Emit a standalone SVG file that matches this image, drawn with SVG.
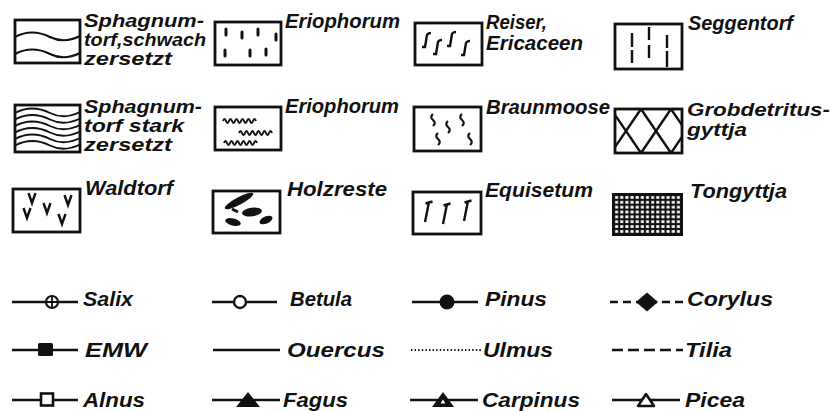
<svg xmlns="http://www.w3.org/2000/svg" width="831" height="411" viewBox="0 0 831 411">
<style>
.t{font-family:"Liberation Sans",Arial,sans-serif;font-weight:bold;font-style:italic;font-size:20px;fill:#111}
.m{font-size:18px}
.box{fill:#fff;stroke:#111;stroke-width:2.8}
.ln{fill:none;stroke:#111;stroke-width:2.4}
.lnt{fill:none;stroke:#111;stroke-width:2.4;stroke-linecap:round}
.blk{fill:#111}
</style>
<defs>
<path id="wave" d="M0,0 C13,-7 25,-5 35,0 C45,5 55,4 65,-1"/>
<path id="curl" d="M0,0 q1.5,-4 3,0 t3,0 t3,0 t3,0 t3,0 t3,0 t3,0 t3,0 t3,0 t3,0 t3,0"/>
<path id="sq" d="M0,0 q-3.5,3 0,6 t0,6"/>
<path id="vv" d="M-3.5,0 L0,10 L3.5,0"/>
<path id="eq" d="M0,0 L-4,20 M-3.5,1.5 L3.5,-0.5"/>
<path id="rs" d="M0,14 L3,14 L5,2 Q6,0 9,0"/>
<pattern id="grid" patternUnits="userSpaceOnUse" x="614" y="195" width="5.15" height="4.85">
<rect x="1.1" y="1.1" width="3" height="2.7" fill="#fff"/>
</pattern>
</defs>
<rect width="831" height="411" fill="#fff"/>

<g id="sphagnum-schwach">
<rect class="box" x="15" y="20" width="65" height="43"/>
<use href="#wave" x="15" y="37" class="ln" style="stroke-width:2"/>
<use href="#wave" x="15" y="54" class="ln" style="stroke-width:2"/>
<text class="t m" x="84" y="27" textLength="120" lengthAdjust="spacingAndGlyphs">Sphagnum-</text>
<text class="t m" x="84" y="46" textLength="122" lengthAdjust="spacingAndGlyphs">torf,schwach</text>
<text class="t m" x="84" y="65" textLength="88" lengthAdjust="spacingAndGlyphs">zersetzt</text>
</g>

<g id="eriophorum-1">
<rect class="box" x="215" y="22" width="66" height="43"/>
<g class="lnt" style="stroke-width:3">
<line x1="226" y1="29" x2="226" y2="35"/>
<line x1="242" y1="32" x2="242" y2="38"/>
<line x1="258" y1="29" x2="258" y2="35"/>
<line x1="276" y1="34" x2="276" y2="40"/>
<line x1="225" y1="50" x2="225" y2="56"/>
<line x1="250" y1="50" x2="250" y2="56"/>
<line x1="266" y1="49" x2="266" y2="55"/>
</g>
<text class="t" x="285" y="28" textLength="115" lengthAdjust="spacingAndGlyphs">Eriophorum</text>
</g>

<g id="reiser">
<rect class="box" x="415" y="23" width="67" height="42"/>
<g class="ln">
<use href="#rs" x="422" y="33"/>
<use href="#rs" x="433" y="40"/>
<use href="#rs" x="447" y="32"/>
<use href="#rs" x="461" y="41"/>
</g>
<text class="t" x="486" y="29" textLength="61" lengthAdjust="spacingAndGlyphs">Reiser,</text>
<text class="t" x="486" y="50" textLength="97" lengthAdjust="spacingAndGlyphs">Ericaceen</text>
</g>

<g id="seggentorf">
<rect class="box" x="615" y="24" width="67" height="45"/>
<g class="ln">
<line x1="632" y1="33" x2="632" y2="47"/>
<line x1="632" y1="50" x2="632" y2="63"/>
<line x1="649" y1="27" x2="649" y2="40"/>
<line x1="649" y1="45" x2="649" y2="58"/>
<line x1="667" y1="35" x2="667" y2="48"/>
<line x1="667" y1="51" x2="667" y2="67"/>
</g>
<text class="t" x="688" y="30" textLength="105" lengthAdjust="spacingAndGlyphs">Seggentorf</text>
</g>

<g id="sphagnum-stark">
<rect class="box" x="15" y="105" width="65" height="47"/>
<g class="ln" style="stroke-width:1.9">
<use href="#wave" x="15" y="113"/>
<use href="#wave" x="15" y="119.5"/>
<use href="#wave" x="15" y="126"/>
<use href="#wave" x="15" y="132.5"/>
<use href="#wave" x="15" y="139"/>
<use href="#wave" x="15" y="145.5"/>
</g>
<text class="t m" x="84" y="113" textLength="118" lengthAdjust="spacingAndGlyphs">Sphagnum-</text>
<text class="t m" x="84" y="132" textLength="100" lengthAdjust="spacingAndGlyphs">torf stark</text>
<text class="t m" x="84" y="151" textLength="88" lengthAdjust="spacingAndGlyphs">zersetzt</text>
</g>

<g id="eriophorum-2">
<rect class="box" x="215" y="107" width="66" height="43"/>
<g class="ln" style="stroke-width:2">
<use href="#curl" x="223" y="121"/>
<use href="#curl" x="239" y="133"/>
<use href="#curl" x="224" y="143"/>
</g>
<text class="t" x="285" y="113" textLength="114" lengthAdjust="spacingAndGlyphs">Eriophorum</text>
</g>

<g id="braunmoose">
<rect class="box" x="414" y="107" width="67" height="44"/>
<g class="ln" style="stroke-width:2.2">
<use href="#sq" x="433" y="114"/>
<use href="#sq" x="438" y="133"/>
<use href="#sq" x="448" y="121"/>
<use href="#sq" x="462" y="114"/>
<use href="#sq" x="470" y="133"/>
</g>
<text class="t" x="486" y="114" textLength="124" lengthAdjust="spacingAndGlyphs">Braunmoose</text>
</g>

<g id="grobdetritus">
<rect class="box" x="615" y="109" width="67" height="44"/>
<g class="ln">
<line x1="615" y1="114.9" x2="641" y2="153"/>
<line x1="641" y1="109" x2="671" y2="153"/>
<line x1="671" y1="109" x2="682" y2="125.1"/>
<line x1="641" y1="109" x2="615" y2="147.1"/>
<line x1="671" y1="109" x2="641" y2="153"/>
<line x1="682" y1="136.9" x2="671" y2="153"/>
</g>
<text class="t m" x="687" y="116" textLength="143" lengthAdjust="spacingAndGlyphs">Grobdetritus-</text>
<text class="t m" x="687" y="136" textLength="60" lengthAdjust="spacingAndGlyphs">gyttja</text>
</g>

<g id="waldtorf">
<rect class="box" x="13" y="189" width="67" height="43"/>
<g class="ln">
<use href="#vv" x="32" y="193"/>
<use href="#vv" x="27" y="208"/>
<use href="#vv" x="47" y="203"/>
<use href="#vv" x="68" y="195"/>
<use href="#vv" x="62" y="214"/>
</g>
<text class="t" x="85" y="195" textLength="88" lengthAdjust="spacingAndGlyphs">Waldtorf</text>
</g>

<g id="holzreste">
<rect class="box" x="213" y="191" width="67" height="42"/>
<g class="blk">
<ellipse cx="239" cy="201" rx="16" ry="3.8" transform="rotate(-28 239 201)"/>
<path d="M232,209 L238,212 Z" stroke="#111" stroke-width="3"/>
<ellipse cx="252" cy="212" rx="10" ry="4.4" transform="rotate(-8 252 212)"/>
<ellipse cx="266" cy="220" rx="7" ry="3.5" transform="rotate(-25 266 220)"/>
<ellipse cx="233" cy="222" rx="8" ry="3.5" transform="rotate(15 233 222)"/>
</g>
<text class="t" x="287" y="196" textLength="100" lengthAdjust="spacingAndGlyphs">Holzreste</text>
</g>

<g id="equisetum">
<rect class="box" x="413" y="192" width="68" height="42"/>
<g class="ln">
<use href="#eq" x="429" y="202"/>
<use href="#eq" x="447" y="204"/>
<use href="#eq" x="468" y="201"/>
</g>
<text class="t" x="485" y="197" textLength="108" lengthAdjust="spacingAndGlyphs">Equisetum</text>
</g>

<g id="tongyttja">
<rect x="612" y="193" width="71" height="43" fill="#111"/>
<rect x="614" y="195" width="67" height="39" fill="url(#grid)"/>
<text class="t" x="690" y="198" textLength="97" lengthAdjust="spacingAndGlyphs">Tongyttja</text>
</g>

<g id="connectors">
<line class="ln" x1="12" y1="302" x2="78" y2="302"/>
<line class="ln" x1="212" y1="302" x2="277" y2="302"/>
<line class="ln" x1="412" y1="302" x2="478" y2="302"/>
<line class="ln" x1="610" y1="302" x2="683" y2="302" stroke-dasharray="8 5"/>
<line class="ln" x1="12" y1="350" x2="78" y2="350"/>
<line class="ln" x1="213" y1="350" x2="280" y2="350"/>
<line class="ln" x1="411" y1="350" x2="482" y2="350" stroke-dasharray="1.4 2.2" style="stroke-width:1.8"/>
<line class="ln" x1="612" y1="350" x2="683" y2="350" stroke-dasharray="11 5"/>
<line class="ln" x1="12" y1="400" x2="78" y2="400"/>
<line class="ln" x1="212" y1="400" x2="280" y2="400"/>
<line class="ln" x1="410" y1="400" x2="478" y2="400"/>
<line class="ln" x1="612" y1="400" x2="680" y2="400"/>
</g>

<g id="salix">
<circle cx="52" cy="302" r="6" fill="#fff" stroke="#111" stroke-width="2.2"/>
<path d="M46,302 H58 M52,296 V308" stroke="#111" stroke-width="1.8"/>
<text class="t" x="83" y="306" textLength="50" lengthAdjust="spacingAndGlyphs">Salix</text>
</g>
<g id="betula">
<circle cx="240" cy="302" r="6" fill="#fff" stroke="#111" stroke-width="2.4"/>
<text class="t" x="290" y="306" textLength="62" lengthAdjust="spacingAndGlyphs">Betula</text>
</g>
<g id="pinus">
<circle cx="447" cy="302" r="7.5" fill="#111"/>
<text class="t" x="485" y="306" textLength="62" lengthAdjust="spacingAndGlyphs">Pinus</text>
</g>
<g id="corylus">
<path d="M647,292.5 L658,302 L647,311.5 L636,302 Z" fill="#111"/>
<text class="t" x="687" y="306" textLength="86" lengthAdjust="spacingAndGlyphs">Corylus</text>
</g>
<g id="emw">
<rect x="38" y="343" width="15" height="13" rx="1.5" fill="#111"/>
<text class="t" x="85" y="357" textLength="62" lengthAdjust="spacingAndGlyphs">EMW</text>
</g>
<g id="quercus">
<text class="t" x="287" y="357" textLength="98" lengthAdjust="spacingAndGlyphs">Ouercus</text>
</g>
<g id="ulmus">
<text class="t" x="483" y="357" textLength="70" lengthAdjust="spacingAndGlyphs">Ulmus</text>
</g>
<g id="tilia">
<text class="t" x="685" y="357" textLength="47" lengthAdjust="spacingAndGlyphs">Tilia</text>
</g>
<g id="alnus">
<rect x="41" y="393.5" width="12" height="12" fill="#fff" stroke="#111" stroke-width="2.6"/>
<text class="t" x="83" y="407" textLength="62" lengthAdjust="spacingAndGlyphs">Alnus</text>
</g>
<g id="fagus">
<path d="M248,392 L260,407 L236,407 Z" fill="#111"/>
<text class="t" x="283" y="407" textLength="65" lengthAdjust="spacingAndGlyphs">Fagus</text>
</g>
<g id="carpinus">
<path d="M443,392 L454,407 L432,407 Z" fill="#111"/>
<path d="M443,399.5 L445.5,403.5 L440.5,403.5 Z" fill="#fff"/>
<text class="t" x="482" y="407" textLength="98" lengthAdjust="spacingAndGlyphs">Carpinus</text>
</g>
<g id="picea">
<path d="M646,394 L654,406 L638,406 Z" fill="#fff" stroke="#111" stroke-width="2.6" stroke-linejoin="round"/>
<text class="t" x="685" y="407" textLength="60" lengthAdjust="spacingAndGlyphs">Picea</text>
</g>
</svg>
